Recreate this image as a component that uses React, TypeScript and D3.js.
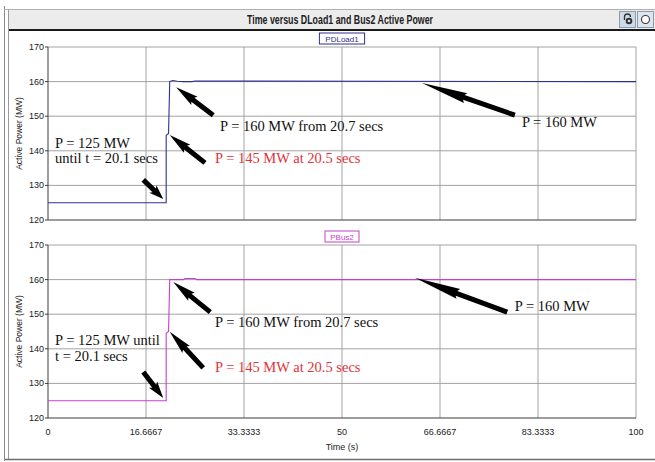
import React from "react";
import * as d3 from "d3";

// Simulation output: active power (MW) against time (s)
const timeTicks = [0, 16.6667, 33.3333, 50, 66.6667, 83.3333, 100];
const timeTickLabels = ["0", "16.6667", "33.3333", "50", "66.6667", "83.3333", "100"];
const powerTicks = [120, 130, 140, 150, 160, 170];

const pdload1Time = [0, 20.1, 20.1, 20.5, 20.7, 21.2, 22.0, 23.0, 24.5, 25.0, 100];
const pdload1Power = [125, 125, 144.5, 145, 160, 160.3, 160.1, 160, 160, 160.15, 160];

const pbus2Time = [0, 20.1, 20.1, 20.5, 20.7, 21.5, 23.0, 23.3, 25.0, 25.3, 100];
const pbus2Power = [125, 125, 144.5, 145, 160, 160, 160, 160.3, 160.3, 160, 160];

type Note = {
  lines: string[];
  color: string;
  textT: number;
  textP: number[];
  tailT: number;
  tailP: number;
  tipT: number;
  tipP: number;
};

const pdload1Notes: Note[] = [
  { lines: ["P = 125 MW", "until t = 20.1 secs"], color: "#111", textT: 1.2, textP: [140.8, 136.5], tailT: 16.2, tailP: 131.6, tipT: 19.6, tipP: 126.1 },
  { lines: ["P = 160 MW from 20.7 secs"], color: "#111", textT: 29.25, textP: [145.7], tailT: 28.1, tailP: 150.3, tipT: 21.8, tipP: 158.4 },
  { lines: ["P = 145 MW at 20.5 secs"], color: "#e0343a", textT: 28.4, textP: [136.5], tailT: 26.7, tailP: 136.5, tipT: 20.7, tipP: 144.6 },
  { lines: ["P = 160 MW"], color: "#111", textT: 80.6, textP: [146.9], tailT: 79.4, tailP: 150.3, tipT: 63.6, tipP: 159.6 },
];

const pbus2Notes: Note[] = [
  { lines: ["P = 125 MW until", "t = 20.1 secs"], color: "#111", textT: 1.2, textP: [141.1, 136.5], tailT: 16.2, tailP: 133.3, tipT: 19.6, tipP: 125.8 },
  { lines: ["P = 160 MW from 20.7 secs"], color: "#111", textT: 28.4, textP: [146.3], tailT: 27.6, tailP: 150.6, tipT: 21.3, tipP: 159.3 },
  { lines: ["P = 145 MW at 20.5 secs"], color: "#e0343a", textT: 28.4, textP: [133.3], tailT: 26.4, tailP: 134.5, tipT: 20.7, tipP: 144.9 },
  { lines: ["P = 160 MW"], color: "#111", textT: 79.4, textP: [150.9], tailT: 78.1, tailP: 150.6, tipT: 62.4, tipP: 160.5 },
];

const W = 655;
const H = 462;
const sans = "'Liberation Sans', Arial, sans-serif";
const serif = "'Liberation Serif', 'Times New Roman', serif";

const xScale = d3.scaleLinear().domain([0, 100]).range([48, 636]);

function arrowPath(x1: number, y1: number, x2: number, y2: number) {
  const dx = x2 - x1;
  const dy = y2 - y1;
  const L = Math.hypot(dx, dy);
  const ux = dx / L;
  const uy = dy / L;
  const nx = -uy;
  const ny = ux;
  const sw = 2.5;
  const hw = 5.2;
  const hl = L * 0.45;
  const bx = x2 - ux * hl;
  const by = y2 - uy * hl;
  const pts: [number, number][] = [
    [x1 + nx * sw, y1 + ny * sw],
    [bx + nx * sw, by + ny * sw],
    [bx + nx * hw - ux * 2, by + ny * hw - uy * 2],
    [x2, y2],
    [bx - nx * hw - ux * 2, by - ny * hw - uy * 2],
    [bx - nx * sw, by - ny * sw],
    [x1 - nx * sw, y1 - ny * sw],
  ];
  return "M" + pts.map((p) => p.join(",")).join("L") + "Z";
}

type PanelProps = {
  top: number;
  bottom: number;
  times: number[];
  powers: number[];
  color: string;
  name: string;
  notes: Note[];
  showXLabels: boolean;
};

function Panel({ top, bottom, times, powers, color, name, notes, showXLabels }: PanelProps) {
  const y = d3.scaleLinear().domain([120, 170]).range([bottom, top]);
  const [x0, x1] = xScale.range();
  const line = d3
    .line<number>()
    .x((_, i) => xScale(times[i]))
    .y((p) => y(p));
  const midY = (top + bottom) / 2;
  const cx = (x0 + x1) / 2;
  const boxW = name.length * 5.6 + 6;
  return (
    <g>
      {/* grid */}
      {powerTicks.slice(1).map((p) => (
        <line key={"h" + p} x1={x0} x2={x1} y1={y(p)} y2={y(p)} stroke="#a3a3a3" strokeWidth={1} />
      ))}
      {timeTicks.slice(1).map((t) => (
        <line key={"v" + t} x1={xScale(t)} x2={xScale(t)} y1={top} y2={bottom} stroke="#a3a3a3" strokeWidth={1} />
      ))}
      {/* axes */}
      <line x1={x0} x2={x0} y1={top} y2={bottom} stroke="#3c3c3c" strokeWidth={1} />
      <line x1={x0} x2={x1} y1={bottom} y2={bottom} stroke="#3c3c3c" strokeWidth={1} />
      {powerTicks.map((p) => (
        <g key={"yt" + p}>
          <line x1={x0 - 3} x2={x0} y1={y(p)} y2={y(p)} stroke="#3c3c3c" />
          <text x={x0 - 4} y={y(p) + 3} textAnchor="end" fontFamily={sans} fontSize={9} fill="#222">
            {p}
          </text>
        </g>
      ))}
      <text
        transform={`translate(22,${midY}) rotate(-90)`}
        textAnchor="middle"
        fontFamily={sans}
        fontSize={8.5}
        fill="#222"
      >
        Active Power (MW)
      </text>
      {showXLabels &&
        timeTicks.map((t, i) => (
          <text key={"xt" + t} x={xScale(t)} y={bottom + 17} textAnchor="middle" fontFamily={sans} fontSize={9} fill="#222">
            {timeTickLabels[i]}
          </text>
        ))}
      {showXLabels && (
        <text x={cx} y={bottom + 32} textAnchor="middle" fontFamily={sans} fontSize={9} fill="#222">
          Time (s)
        </text>
      )}
      {/* series label */}
      <rect x={cx - boxW / 2} y={top - 14} width={boxW} height={11} fill="#fff" stroke={color} strokeWidth={1} />
      <text x={cx} y={top - 5.5} textAnchor="middle" fontFamily={sans} fontSize={8} fill={color}>
        {name}
      </text>
      {/* series */}
      <path d={line(powers) || ""} fill="none" stroke={color} strokeWidth={1.1} />
      {/* annotations */}
      {notes.map((n, i) => (
        <g key={"n" + i}>
          <path d={arrowPath(xScale(n.tailT), y(n.tailP), xScale(n.tipT), y(n.tipP))} fill="#000" />
          {n.lines.map((s, j) => (
            <text key={j} x={xScale(n.textT)} y={y(n.textP[j])} fontFamily={serif} fontSize={14.5} fill={n.color}>
              {s}
            </text>
          ))}
        </g>
      ))}
    </g>
  );
}

export default function App() {
  return (
    <svg
      width={W}
      height={H}
      viewBox={`0 0 ${W} ${H}`}
      style={{ position: "fixed", left: 0, top: 0, display: "block" }}
    >
      <rect x={0} y={0} width={W} height={H} fill="#fff" />
      {/* window frame */}
      <line x1={4.5} x2={4.5} y1={6} y2={461} stroke="#8a8a8a" />
      <line x1={8.5} x2={8.5} y1={10} y2={459} stroke="#9a9a9a" />
      <line x1={4} x2={W} y1={9.5} y2={9.5} stroke="#b0b0b0" />
      <line x1={5} x2={W} y1={459.5} y2={459.5} stroke="#6e6e6e" strokeWidth={1.5} />
      {/* title bar */}
      <rect x={9} y={10} width={W - 9} height={19} fill="#ececec" />
      <line x1={9} x2={W} y1={30} y2={30} stroke="#1a1a1a" strokeWidth={2} />
      <text
        x={340}
        y={24}
        textAnchor="middle"
        fontFamily={sans}
        fontSize={12}
        fontWeight="bold"
        fill="#222"
        textLength={186}
        lengthAdjust="spacingAndGlyphs"
      >
        Time versus DLoad1 and Bus2 Active Power
      </text>
      {/* toolbar buttons */}
      <rect x={619.5} y={11.5} width={16} height={16} fill="#cfdbe8" stroke="#8d9cab" />
      <path d="M624.5,20 v-3 a3,3 0 0 1 6,0" fill="none" stroke="#333" strokeWidth={1.3} />
      <circle cx={629} cy={21} r={3.3} fill="#333" />
      <circle cx={629} cy={21} r={1.3} fill="#cfdbe8" />
      <rect x={637.5} y={11.5} width={16} height={16} fill="#dde6ef" stroke="#8d9cab" />
      <circle cx={645.5} cy={19.5} r={4} fill="#fff" stroke="#333" strokeWidth={1.1} />

      <Panel
        top={47}
        bottom={220}
        times={pdload1Time}
        powers={pdload1Power}
        color="#2f318f"
        name="PDLoad1"
        notes={pdload1Notes}
        showXLabels={false}
      />
      <Panel
        top={245}
        bottom={418}
        times={pbus2Time}
        powers={pbus2Power}
        color="#c63fcc"
        name="PBus2"
        notes={pbus2Notes}
        showXLabels={true}
      />
    </svg>
  );
}
